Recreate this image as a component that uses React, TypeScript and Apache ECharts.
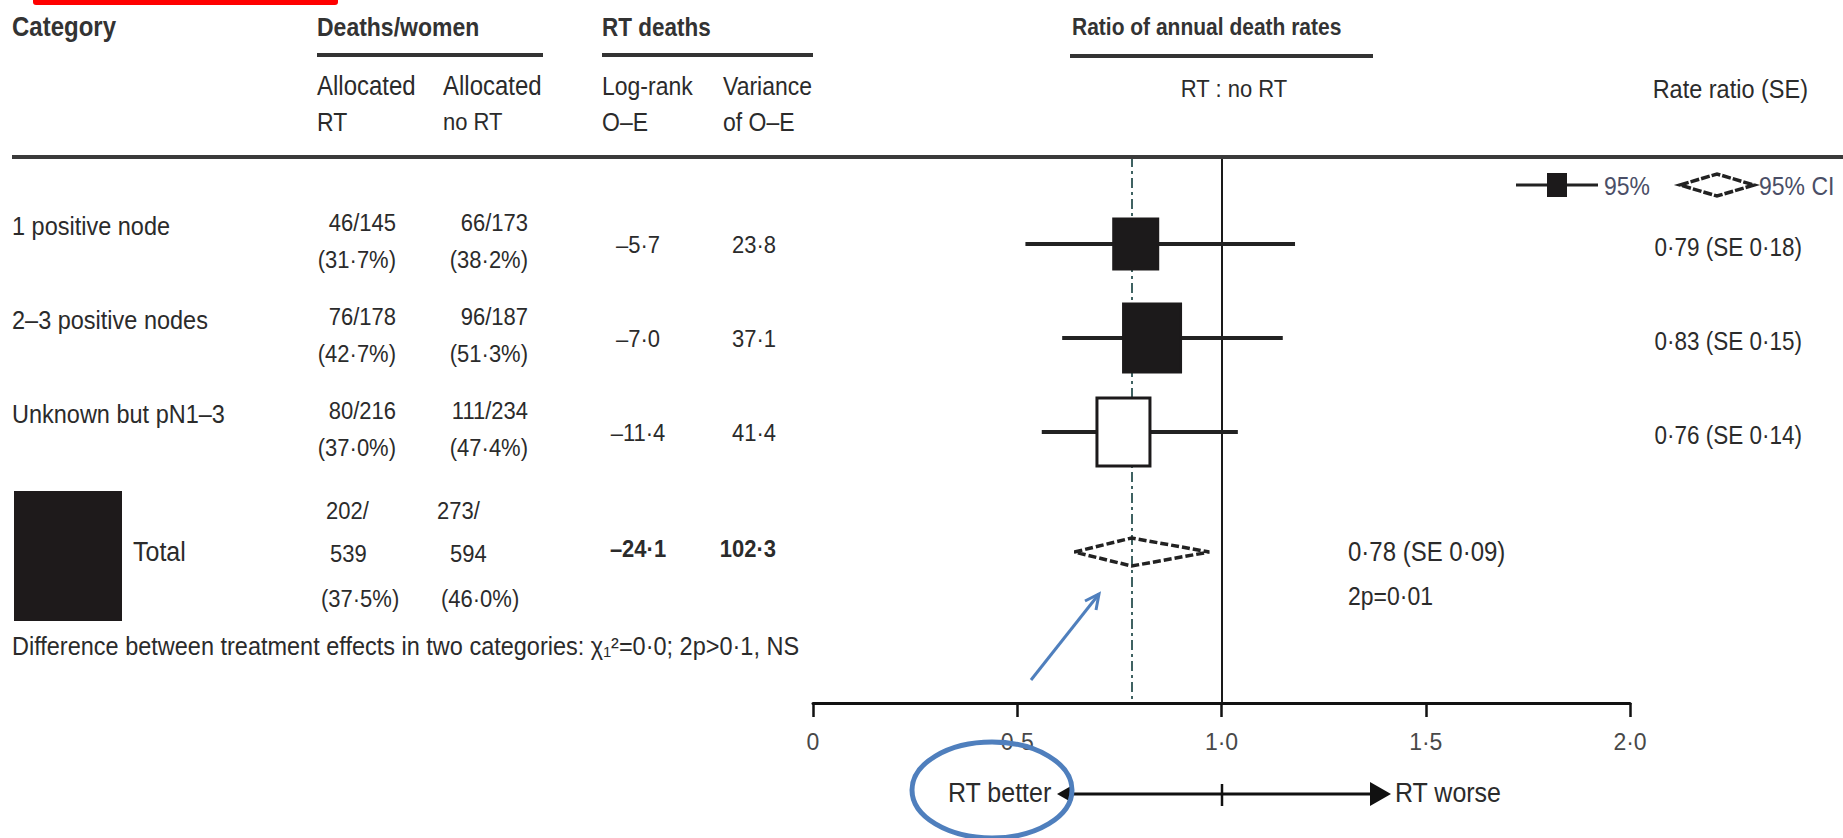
import React, { useEffect, useRef } from "react";
import * as echarts from "echarts";

// ---------- data ----------
const categories = ["1 positive node", "2–3 positive nodes", "Unknown but pN1–3"];
const deathsRT = ["46/145", "76/178", "80/216"];
const pctRT = ["(31·7%)", "(42·7%)", "(37·0%)"];
const deathsNoRT = ["66/173", "96/187", "111/234"];
const pctNoRT = ["(38·2%)", "(51·3%)", "(47·4%)"];
const logRankOE = ["–5·7", "–7·0", "–11·4"];
const varianceOE = ["23·8", "37·1", "41·4"];
const ratioEst = [0.79, 0.83, 0.76];
const ciLow = [0.52, 0.61, 0.56];
const ciHigh = [1.18, 1.15, 1.04];
const rateRatioText = ["0·79 (SE 0·18)", "0·83 (SE 0·15)", "0·76 (SE 0·14)"];

const totalDeathsRT = ["202/", "539", "(37·5%)"];
const totalDeathsNoRT = ["273/", "594", "(46·0%)"];
const totalLogRank = "–24·1";
const totalVariance = "102·3";
const totalEst = 0.78;
const totalLow = 0.64;
const totalHigh = 0.97;
const totalRateText = ["0·78 (SE 0·09)", "2p=0·01"];

const xTickLabels = ["0", "0·5", "1·0", "1·5", "2·0"];

// ---------- layout (pixels) ----------
const rowY = [244, 338, 432];
const totalY = 552;
const boxW = [44, 57, 53];
const boxH = [50, 68, 68];
const boxFill = ["#1c1a1b", "#1c1a1b", "#ffffff"];

const FONT = '"Liberation Sans", Arial, sans-serif';
const INK = "#2b2b2b";

function T(text: string, x: number, y: number, o: any = {}) {
  return {
    type: "text",
    x,
    y,
    z: 20,
    scaleY: o.sy || 1.12,
    style: {
      text,
      fill: o.fill || INK,
      fontSize: o.size || 22,
      fontFamily: FONT,
      fontWeight: o.weight || "normal",
      textAlign: o.align || "left",
      align: o.align || "left",
      textVerticalAlign: "middle",
      verticalAlign: "middle",
    },
  };
}

function L(x1: number, y1: number, x2: number, y2: number, w: number, c = "#333") {
  return { type: "line", z: 15, shape: { x1, y1, x2, y2 }, style: { stroke: c, lineWidth: w } };
}

export default function App() {
  const ref = useRef<HTMLDivElement>(null);
  useEffect(() => {
    document.body.style.margin = "0";
    const chart = echarts.init(ref.current!, null, { renderer: "svg" });

    const graphics: any[] = [];
    // red marker at top
    graphics.push({ type: "rect", z: 30, shape: { x: 33, y: -5, width: 305, height: 10, r: 3 }, style: { fill: "#ff0000" } });
    // headers
    graphics.push(T("Category", 12, 27, { weight: "bold", size: 24, fill: "#333" }));
    graphics.push(T("Deaths/women", 317, 27, { weight: "bold", size: 23, fill: "#333" }));
    graphics.push(L(317, 55, 543, 55, 4));
    graphics.push(T("RT deaths", 602, 27, { weight: "bold", size: 22.5, fill: "#333" }));
    graphics.push(L(602, 55, 813, 55, 4));
    graphics.push(T("Ratio of annual death rates", 1072, 27, { weight: "bold", size: 21, fill: "#333" }));
    graphics.push(L(1070, 56, 1373, 56, 4));
    graphics.push(T("Allocated", 317, 86, { size: 24 }));
    graphics.push(T("RT", 317, 122, { size: 23 }));
    graphics.push(T("Allocated", 443, 86, { size: 24 }));
    graphics.push(T("no RT", 443, 122, { size: 22 }));
    graphics.push(T("Log-rank", 602, 86, { size: 23 }));
    graphics.push(T("O–E", 602, 122, { size: 23 }));
    graphics.push(T("Variance", 723, 86, { size: 23 }));
    graphics.push(T("of O–E", 723, 122, { size: 23 }));
    graphics.push(T("RT : no RT", 1234, 89, { align: "center" }));
    graphics.push(T("Rate ratio (SE)", 1808, 89, { align: "right", size: 23.5 }));
    graphics.push(L(12, 157, 1843, 157, 4, "#3a3a3a"));

    // legend
    graphics.push(L(1516, 185, 1598, 185, 3, "#222"));
    graphics.push({ type: "rect", z: 16, shape: { x: 1547, y: 173, width: 20, height: 24 }, style: { fill: "#1c1a1b" } });
    graphics.push(T("95%", 1604, 186, { fill: "#4a4e66", size: 23 }));
    graphics.push({
      type: "polygon",
      z: 16,
      shape: { points: [[1680, 185], [1717, 174], [1754, 185], [1717, 196]] },
      style: { fill: "none", stroke: "#222", lineWidth: 3.5, lineDash: [9, 2] },
    });
    graphics.push(T("95% CI", 1759, 186, { fill: "#4a4e66", size: 23 }));

    // rows
    categories.forEach((c, i) => {
      const y = rowY[i];
      graphics.push(T(c, 12, y - 18, { size: 23.5 }));
      graphics.push(T(deathsRT[i], 396, y - 21, { align: "right" }));
      graphics.push(T(pctRT[i], 396, y + 16, { align: "right" }));
      graphics.push(T(deathsNoRT[i], 528, y - 21, { align: "right" }));
      graphics.push(T(pctNoRT[i], 528, y + 16, { align: "right" }));
      graphics.push(T(logRankOE[i], 638, y + 1, { align: "center" }));
      graphics.push(T(varianceOE[i], 776, y + 1, { align: "right" }));
      graphics.push(T(rateRatioText[i], 1802, y + 3, { align: "right", size: 22.5 }));
    });

    // total
    graphics.push({ type: "rect", z: 16, shape: { x: 14, y: 491, width: 108, height: 130 }, style: { fill: "#1e1a1b" } });
    graphics.push(T("Total", 133, totalY, { size: 25 }));
    graphics.push(T(totalDeathsRT[0], 326, 511));
    graphics.push(T(totalDeathsRT[1], 330, 554));
    graphics.push(T(totalDeathsRT[2], 321, 599));
    graphics.push(T(totalDeathsNoRT[0], 437, 511));
    graphics.push(T(totalDeathsNoRT[1], 450, 554));
    graphics.push(T(totalDeathsNoRT[2], 441, 599));
    graphics.push(T(totalLogRank, 638, 549, { align: "center", weight: "bold" }));
    graphics.push(T(totalVariance, 776, 549, { align: "right", weight: "bold" }));
    graphics.push(T(totalRateText[0], 1348, 552, { size: 24 }));
    graphics.push(T(totalRateText[1], 1348, 596, { size: 23 }));
    graphics.push(T("Difference between treatment effects in two categories: χ₁²=0·0; 2p>0·1, NS", 12, 646, { size: 23.5 }));

    // bottom direction arrow
    graphics.push(T("RT better", 948, 793, { size: 25 }));
    graphics.push(L(1062, 794, 1378, 794, 3, "#111"));
    graphics.push({ type: "polygon", z: 16, shape: { points: [[1057, 794], [1071, 786], [1071, 802]] }, style: { fill: "#111" } });
    graphics.push({ type: "polygon", z: 16, shape: { points: [[1391, 794], [1370, 782], [1370, 806]] }, style: { fill: "#111" } });
    graphics.push(L(1222, 784, 1222, 806, 2.5, "#111"));
    graphics.push(T("RT worse", 1395, 793, { size: 25 }));

    // blue annotations
    graphics.push({
      type: "ellipse",
      z: 25,
      shape: { cx: 992, cy: 790, rx: 80, ry: 48 },
      style: { fill: "none", stroke: "#4f7fbd", lineWidth: 5 },
    });
    graphics.push(L(1031, 680, 1099, 594, 3, "#4f7fbd"));
    graphics.push({
      type: "polyline",
      z: 25,
      shape: { points: [[1085, 601], [1099, 594], [1096, 610]] },
      style: { fill: "none", stroke: "#4f7fbd", lineWidth: 3 },
    });

    const ciData = ratioEst.map((e, i) => [e, ciLow[i], ciHigh[i], i, rowY[i]]);

    chart.setOption({
      animation: false,
      backgroundColor: "#ffffff",
      grid: { left: 813, width: 817, top: 157, height: 546, containLabel: false },
      xAxis: {
        type: "value",
        min: 0,
        max: 2,
        interval: 0.5,
        position: "bottom",
        splitLine: { show: false },
        axisLine: { show: true, lineStyle: { color: "#111", width: 3 } },
        axisTick: { show: true, length: 14, lineStyle: { color: "#111", width: 2.5 } },
        axisLabel: {
          margin: 27,
          color: "#484848",
          fontSize: 23,
          fontFamily: FONT,
          formatter: (v: number) => xTickLabels[Math.round(v / 0.5)],
        },
      },
      yAxis: { type: "value", inverse: true, min: 157, max: 703, show: false },
      graphic: graphics,
      series: [
        {
          type: "line",
          z: 1,
          data: [],
          silent: true,
          markLine: {
            silent: true,
            symbol: ["none", "none"],
            label: { show: false },
            data: [
              { xAxis: 1, lineStyle: { color: "#1a1a1a", width: 2, type: "solid" } },
              { xAxis: totalEst, lineStyle: { color: "#3f6262", width: 2, type: [10, 4, 3, 4] } },
            ],
          },
        },
        {
          type: "custom",
          z: 5,
          data: ciData,
          encode: { x: [0, 1, 2], y: 4 },
          renderItem: (params: any, api: any) => {
            const idx = api.value(3);
            const y = api.value(4);
            const pLo = api.coord([api.value(1), y]);
            const pHi = api.coord([api.value(2), y]);
            const pE = api.coord([api.value(0), y]);
            const w = boxW[idx];
            const h = boxH[idx];
            return {
              type: "group",
              children: [
                { type: "line", shape: { x1: pLo[0], y1: pLo[1], x2: pHi[0], y2: pHi[1] }, style: { stroke: "#222", lineWidth: 4 } },
                {
                  type: "rect",
                  shape: { x: pE[0] - w / 2, y: pE[1] - h / 2, width: w, height: h },
                  style: { fill: boxFill[idx], stroke: "#1c1a1b", lineWidth: 3 },
                },
              ],
            };
          },
        },
        {
          type: "custom",
          z: 5,
          data: [[totalEst, totalLow, totalHigh, totalY]],
          encode: { x: [0, 1, 2], y: 3 },
          renderItem: (params: any, api: any) => {
            const y = api.value(3);
            const pE = api.coord([api.value(0), y]);
            const pLo = api.coord([api.value(1), y]);
            const pHi = api.coord([api.value(2), y]);
            const hh = 14;
            return {
              type: "polygon",
              shape: { points: [[pLo[0], pLo[1]], [pE[0], pE[1] - hh], [pHi[0], pHi[1]], [pE[0], pE[1] + hh]] },
              style: { fill: "none", stroke: "#222", lineWidth: 3.5, lineDash: [8, 3] },
            };
          },
        },
      ],
    });

    return () => chart.dispose();
  }, []);

  return <div ref={ref} style={{ width: 1843, height: 838 }} />;
}
